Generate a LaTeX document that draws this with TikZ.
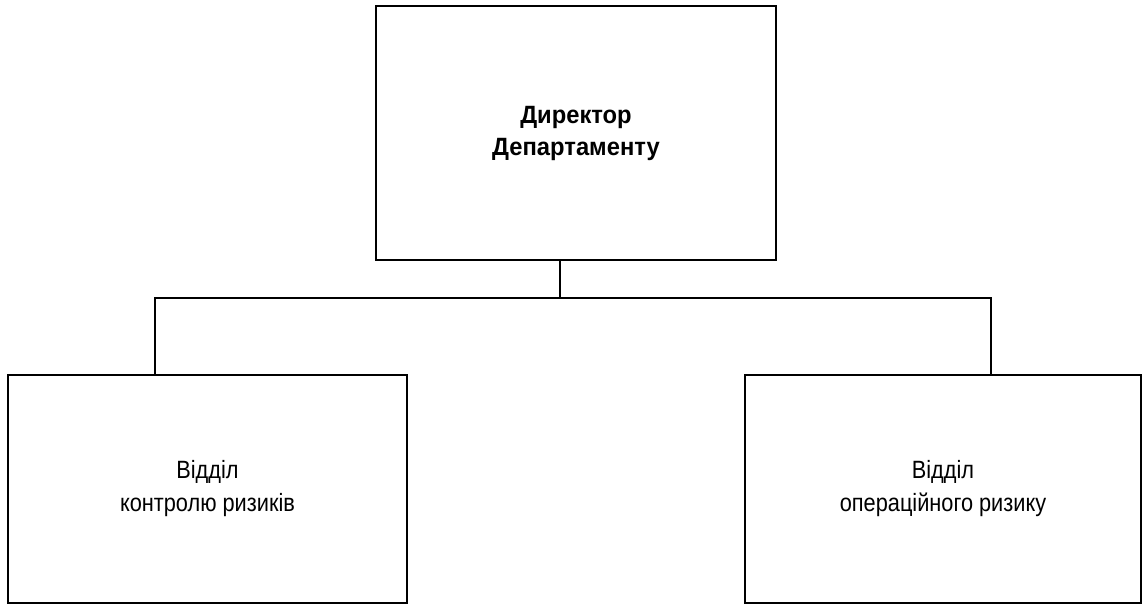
\documentclass[tikz,border=0pt]{standalone}
\usepackage{fontspec}
\setmainfont{Liberation Sans}
\newfontfamily\deptfont[FakeStretch=0.87]{Liberation Sans}
\newfontfamily\headfont[FakeStretch=0.95]{Liberation Sans}
\usetikzlibrary{calc}

\begin{document}
\begin{tikzpicture}[x=1pt,y=-1pt,line width=1.6pt,
  unit/.style={draw,rectangle,align=center,inner sep=0pt,
    font=\deptfont\fontsize{25}{33}\selectfont}]
\useasboundingbox (0,0) rectangle (1142,605);
% head
\node [unit,minimum width=400pt,minimum height=254pt,font=\headfont\fontsize{25}{32}\selectfont\bfseries] (head) at (576,133) {Директор\\Департаменту};
% departments
\node [unit,minimum width=399pt,minimum height=228pt] (ctrl) at (207.5,489) {Відділ\\контролю ризиків};
\node [unit,minimum width=396pt,minimum height=228pt] (oper) at (943,489) {Відділ\\операційного ризику};
% links
\coordinate (fork) at (560,298);
\draw [line width=1.2pt] (head.south -| fork) -- (fork);
\draw [line width=1.2pt] ([xshift=-52.5pt]ctrl.north) |- (fork) -| ([xshift=48pt]oper.north);
\end{tikzpicture}
\end{document}
